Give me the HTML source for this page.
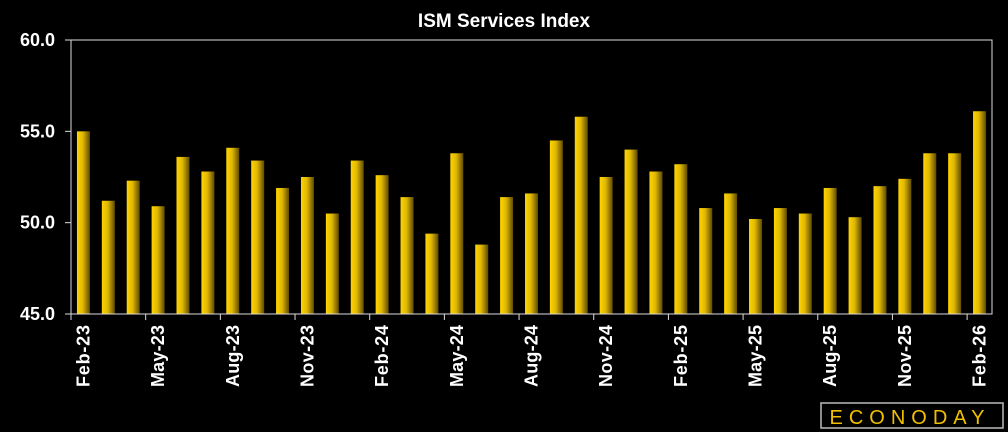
<!DOCTYPE html>
<html><head><meta charset="utf-8"><style>
html,body{margin:0;padding:0;background:#000;width:1008px;height:432px;overflow:hidden}
svg{display:block}
text{font-family:"Liberation Sans",sans-serif;font-weight:bold;fill:#fff}
</style></head><body>
<svg id="chart" width="1008" height="432">
<defs><linearGradient id="bg" x1="0" x2="1" y1="0" y2="0">
<stop offset="0" stop-color="#ffd400"/><stop offset="0.45" stop-color="#e0b800"/><stop offset="1" stop-color="#5e4a00"/></linearGradient></defs>
<text x="504" y="27" text-anchor="middle" font-size="19">ISM Services Index</text>
<g id="plot"></g>
<rect x="821" y="403" width="182" height="25" fill="none" stroke="#bbb" stroke-width="1.5"/>
<text x="910" y="424" text-anchor="middle" font-size="20" style="fill:#f0c000;letter-spacing:6px;font-weight:normal">ECONODAY</text>
</svg>
<script>
const categories=["Feb-23","Mar-23","Apr-23","May-23","Jun-23","Jul-23","Aug-23","Sep-23","Oct-23","Nov-23","Dec-23","Jan-24","Feb-24","Mar-24","Apr-24","May-24","Jun-24","Jul-24","Aug-24","Sep-24","Oct-24","Nov-24","Dec-24","Jan-25","Feb-25","Mar-25","Apr-25","May-25","Jun-25","Jul-25","Aug-25","Sep-25","Oct-25","Nov-25","Dec-25","Jan-26","Feb-26"];
const values=[55.0,51.2,52.3,50.9,53.6,52.8,54.1,53.4,51.9,52.5,50.5,53.4,52.6,51.4,49.4,53.8,48.8,51.4,51.6,54.5,55.8,52.5,54.0,52.8,53.2,50.8,51.6,50.2,50.8,50.5,51.9,50.3,52.0,52.4,53.8,53.8,56.1];
const yTicks=[45,50,55,60];
const NS="http://www.w3.org/2000/svg";
const L=71,R=992,T=40,B=314,yMin=45,yMax=60;
const step=(R-L)/categories.length;
const y=v=>B-(v-yMin)/(yMax-yMin)*(B-T);
const xc=i=>L+step*(i+0.5);
const g=document.getElementById('plot');
function mk(t,a){const e=document.createElementNS(NS,t);for(const k in a)e.setAttribute(k,a[k]);g.appendChild(e);return e;}
values.forEach((v,i)=>{
 const r=mk('rect',{x:xc(i)-6.5,y:y(v),width:13,height:B-y(v),fill:'url(#bg)'});
 
 
});
const ax=mk('path',{d:`M${L} ${T}H${R}V${B}H${L}Z`,fill:'none',stroke:'#ddd','stroke-width':1});


yTicks.forEach(t=>{
 mk('line',{x1:L-6,x2:L,y1:y(t),y2:y(t),stroke:'#ddd'});
 const tx=mk('text',{x:L-16,y:y(t)+6,'text-anchor':'end','font-size':18});
 tx.textContent=t.toFixed(1);
 
 
});
categories.forEach((c,i)=>{
 if(i%3!==0)return;
 const xe=L+step*i;
 mk('line',{x1:xe,x2:xe,y1:B,y2:B+6,stroke:'#ddd'});
 const cx=xc(i)-1;
 const tx=mk('text',{x:0,y:0,'text-anchor':'end','font-size':18,transform:`translate(${cx+7},${B+11}) rotate(-90)`,'textLength':62,'lengthAdjust':'spacing'});
 tx.textContent=c;
 
 
});
</script>
</body></html>
